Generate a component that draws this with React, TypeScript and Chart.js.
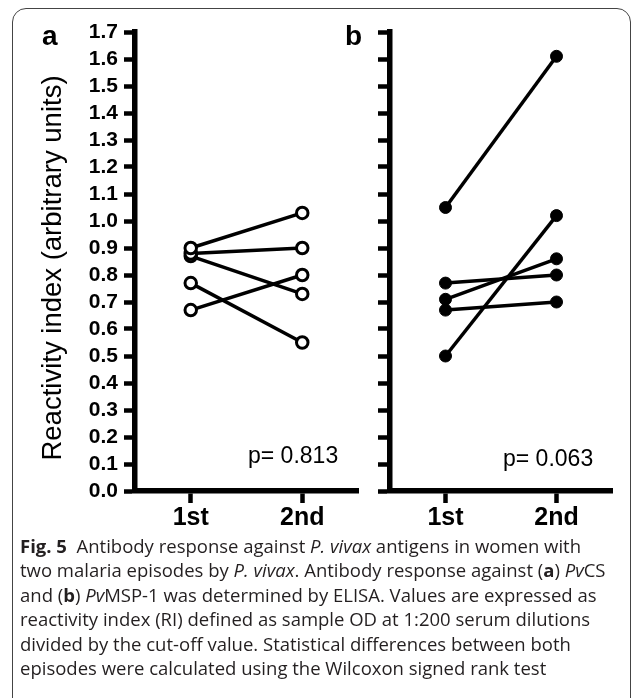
import React, { useEffect, useRef } from "react";
import { Chart, registerables } from "chart.js";

Chart.register(...registerables);

// ---- data ----
const episodes = ["1st", "2nd"];
const pvcsFirst = [0.9, 0.88, 0.87, 0.77, 0.67];
const pvcsSecond = [1.03, 0.9, 0.73, 0.55, 0.8];
const pvmspFirst = [1.05, 0.5, 0.77, 0.71, 0.67];
const pvmspSecond = [1.61, 1.02, 0.8, 0.86, 0.7];
const yMin = 0;
const yMax = 1.7;
const yStep = 0.1;
const panelLabels = ["a", "b"];
const pLabels = ["p= 0.813", "p= 0.063"];
const yTitle = "Reactivity index (arbitrary units)";

const AXIS_FONT = "'Liberation Sans', Arial, Helvetica, sans-serif";

function buildDatasets(first: number[], second: number[], filled: boolean) {
  const lines = first.map((v, i) => ({
    type: "line" as const,
    data: [v, second[i]],
    borderColor: "#000",
    borderWidth: 3.5,
    pointRadius: 0,
    order: 2,
    clip: false as const,
  }));
  const points = first.map((v, i) => ({
    type: "line" as const,
    data: [v, second[i]],
    showLine: false,
    pointRadius: filled ? 6 : 5.75,
    pointBorderWidth: filled ? 1 : 3,
    pointBackgroundColor: filled ? "#000" : "#fff",
    pointBorderColor: "#000",
    order: 1,
    clip: false as const,
  }));
  return [...lines, ...points];
}

type PanelProps = {
  first: number[];
  second: number[];
  filled: boolean;
  showYLabels: boolean;
  left: number;
  width: number;
  height: number;
  padRight: number;
  yAxisWidth: number;
  yTickLen: number;
  xAxisHeight: number;
};

function Panel(p: PanelProps) {
  const ref = useRef<HTMLCanvasElement | null>(null);
  useEffect(() => {
    if (!ref.current) return;
    const chart = new Chart(ref.current, {
      type: "line",
      data: { labels: episodes, datasets: buildDatasets(p.first, p.second, p.filled) as any },
      options: {
        responsive: false,
        animation: false,
        events: [],
        layout: { padding: { top: 32, right: p.padRight, bottom: 0, left: 0 } },
        plugins: { legend: { display: false }, tooltip: { enabled: false } },
        scales: {
          x: {
            type: "category",
            offset: true,
            grid: {
              display: true,
              drawOnChartArea: false,
              drawTicks: true,
              tickLength: 12,
              tickWidth: 4.5,
              tickColor: "#000",
              offset: false,
            },
            border: { display: true, width: 5.5, color: "#000" },
            ticks: {
              color: "#000",
              font: { family: AXIS_FONT, size: 25, weight: "bold" },
              padding: 0,
              maxRotation: 0,
              autoSkip: false,
            },
            afterFit: (s: any) => {
              s.height = p.xAxisHeight;
            },
          },
          y: {
            type: "linear",
            min: yMin,
            max: yMax,
            grid: {
              display: true,
              drawOnChartArea: false,
              drawTicks: true,
              tickLength: p.yTickLen,
              tickWidth: 4.5,
              tickColor: "#000",
            },
            border: { display: true, width: 5.5, color: "#000" },
            ticks: {
              display: p.showYLabels,
              stepSize: yStep,
              autoSkip: false,
              color: "#000",
              padding: 6,
              font: { family: AXIS_FONT, size: 21, weight: "bold" },
              callback: (v: any) => Number(v).toFixed(1),
            },
            afterFit: (s: any) => {
              s.width = p.yAxisWidth;
            },
          },
        },
      } as any,
    });
    return () => chart.destroy();
  }, []);
  return (
    <canvas
      ref={ref}
      width={p.width}
      height={p.height}
      style={{ position: "absolute", left: p.left, top: 0, width: p.width, height: p.height }}
    />
  );
}

const capFont = "'Open Sans', 'Noto Sans', sans-serif";

function CapLine({ top, children }: { top: number; children: any }) {
  return (
    <div
      style={{
        position: "absolute",
        left: 20,
        top,
        height: 27,
        lineHeight: "27px",
        whiteSpace: "nowrap",
        fontFamily: capFont,
        fontSize: 18.5,
        color: "#231f20",
      }}
    >
      {children}
    </div>
  );
}

export default function App() {
  const capTop = 531.5;
  const lh = 24.5;
  return (
    <div
      style={{
        position: "fixed",
        left: 0,
        top: 0,
        width: 634,
        height: 698,
        background: "#fff",
        overflow: "hidden",
      }}
    >
      <div
        style={{
          position: "absolute",
          left: 12,
          top: 8,
          width: 619,
          height: 710,
          border: "1.5px solid #444",
          borderRadius: 14,
          boxSizing: "border-box",
        }}
      />
      <Panel
        first={pvcsFirst}
        second={pvcsSecond}
        filled={false}
        showYLabels={true}
        left={0}
        width={370}
        height={560}
        padRight={12}
        yAxisWidth={135}
        yTickLen={11}
        xAxisHeight={69}
      />
      <Panel
        first={pvmspFirst}
        second={pvmspSecond}
        filled={true}
        showYLabels={false}
        left={370}
        width={264}
        height={560}
        padRight={22}
        yAxisWidth={20}
        yTickLen={12}
        xAxisHeight={69}
      />
      <div
        style={{
          position: "absolute",
          left: 52,
          top: 268,
          transform: "translate(-50%, -50%) rotate(-90deg)",
          whiteSpace: "nowrap",
          fontFamily: AXIS_FONT,
          fontSize: 27.5,
          color: "#000",
        }}
      >
        {yTitle}
      </div>
      <div style={{ position: "absolute", left: 42, top: 18, fontFamily: AXIS_FONT, fontWeight: "bold", fontSize: 28, color: "#000", lineHeight: "36px" }}>
        {panelLabels[0]}
      </div>
      <div style={{ position: "absolute", left: 345, top: 18, fontFamily: AXIS_FONT, fontWeight: "bold", fontSize: 28, color: "#000", lineHeight: "36px" }}>
        {panelLabels[1]}
      </div>
      <div style={{ position: "absolute", left: 248, top: 441, fontFamily: AXIS_FONT, fontSize: 23, color: "#000", lineHeight: "28px", whiteSpace: "nowrap" }}>
        {pLabels[0]}
      </div>
      <div style={{ position: "absolute", left: 503, top: 444, fontFamily: AXIS_FONT, fontSize: 23, color: "#000", lineHeight: "28px", whiteSpace: "nowrap" }}>
        {pLabels[1]}
      </div>
      <CapLine top={capTop}>
        <b>Fig. 5</b>&nbsp; Antibody response against <i>P. vivax</i> antigens in women with
      </CapLine>
      <CapLine top={capTop + lh}>
        two malaria episodes by <i>P. vivax</i>. Antibody response against (<b>a</b>) <i>Pv</i>CS
      </CapLine>
      <CapLine top={capTop + lh * 2}>
        and (<b>b</b>) <i>Pv</i>MSP-1 was determined by ELISA. Values are expressed as
      </CapLine>
      <CapLine top={capTop + lh * 3}>
        reactivity index (RI) defined as sample OD at 1:200 serum dilutions
      </CapLine>
      <CapLine top={capTop + lh * 4}>
        divided by the cut-off value. Statistical differences between both
      </CapLine>
      <CapLine top={capTop + lh * 5}>
        episodes were calculated using the Wilcoxon signed rank test
      </CapLine>
    </div>
  );
}
